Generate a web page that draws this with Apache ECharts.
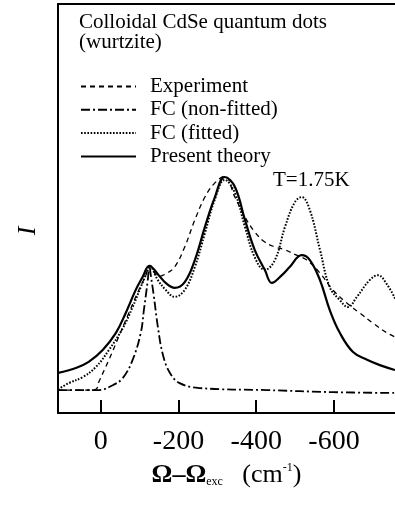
<!DOCTYPE html>
<html>
<head>
<meta charset="utf-8">
<script src="https://cdn.jsdelivr.net/npm/echarts@6/dist/echarts.min.js"></script>
<style>
html,body{margin:0;padding:0;background:#fff;}
#c{width:395px;height:508px;}
</style>
</head>
<body>
<div id="c"></div>
<script>
// Ω−Ω_exc (cm^-1) and intensity I (arbitrary units)
const seriesNames = ['Experiment', 'FC (non-fitted)', 'FC (fitted)', 'Present theory'];
const xTicks = [0, -200, -400, -600];

const expX = [110, 46, 13, 5, -21, -46, -72, -98, -116, -125, -149, -167, -190, -216, -242, -268, -293, -319, -345, -371, -396, -422, -448, -474, -499, -530, -564, -597, -633, -667, -700, -736, -757];
const expY = [5.6, 5.6, 5.8, 7.6, 13.0, 18.6, 24.4, 30.1, 33.7, 36.0, 33.4, 34.0, 35.7, 40.6, 47.2, 52.8, 56.2, 57.9, 52.8, 47.9, 44.3, 41.8, 40.6, 39.9, 38.8, 37.4, 34.2, 30.1, 26.9, 24.4, 22.0, 19.6, 18.6];

const fcnX = [110, 46, 5, -31, -57, -82, -103, -111, -121, -125, -129, -136, -147, -160, -178, -203, -254, -427, -597, -757];
const fcnY = [5.6, 5.6, 5.6, 6.8, 8.6, 13.0, 19.6, 25.2, 32.5, 36.0, 33.5, 29.0, 21.0, 14.2, 9.8, 7.3, 6.1, 5.6, 5.1, 4.9];

const fcfX = [110, 82, 46, 13, -21, -57, -82, -103, -121, -125, -147, -167, -190, -216, -242, -268, -293, -319, -345, -371, -396, -422, -448, -474, -499, -517, -538, -564, -589, -615, -636, -659, -692, -713, -736, -757];
const fcfY = [5.8, 7.3, 8.8, 11.2, 15.4, 20.8, 25.9, 30.8, 35.0, 36.0, 32.5, 30.1, 28.4, 30.1, 35.7, 44.0, 52.1, 57.0, 53.8, 45.5, 38.1, 35.0, 37.4, 45.5, 51.5, 52.8, 49.6, 39.9, 30.8, 27.6, 25.9, 28.4, 32.5, 33.7, 31.5, 28.0];

const thX = [110, 64, 31, -5, -39, -64, -90, -108, -125, -149, -167, -190, -216, -242, -268, -293, -319, -345, -371, -396, -422, -440, -466, -486, -517, -538, -564, -589, -615, -649, -685, -718, -757];
const thY = [9.8, 11.0, 12.5, 15.4, 19.6, 24.4, 30.1, 33.3, 36.0, 33.7, 31.8, 30.6, 32.0, 37.4, 45.5, 52.6, 57.7, 55.3, 47.2, 39.9, 35.0, 31.8, 33.7, 35.7, 38.6, 37.4, 32.5, 25.2, 19.6, 14.9, 13.0, 11.7, 10.5];

const zip = (xs, ys) => xs.map((x, i) => [x, ys[i]]);
const SERIF = "'Liberation Serif', 'Times New Roman', serif";

const chart = echarts.init(document.getElementById('c'));
const xMin = -757, xMax = 110;

chart.setOption({
  animation: false,
  backgroundColor: '#fff',
  grid: { left: 58, right: 0, top: 4, bottom: 95 },
  legend: {
    orient: 'vertical',
    left: 75, top: 71,
    itemWidth: 55, itemHeight: 12, itemGap: 2.3,
    data: seriesNames,
    itemStyle: { opacity: 0 },
    textStyle: { fontFamily: SERIF, fontSize: 21, color: '#000', lineHeight: 21, padding: [0, 0, 0, 9] }
  },
  xAxis: [{
    type: 'value', inverse: true, min: xMin, max: xMax,
    axisLine: { show: true, onZero: false, lineStyle: { color: '#000', width: 2 } },
    axisTick: { show: true, inside: true, length: 13, lineStyle: { color: '#000', width: 2 }, customValues: xTicks },
    axisLabel: { show: true, margin: 15, fontFamily: SERIF, fontSize: 28, color: '#000', customValues: xTicks },
    splitLine: { show: false },
    name: '{a|Ω–Ω}{b|exc}{c|   (cm}{d|-1}{c|)}',
    nameLocation: 'middle', nameGap: 49,
    nameTextStyle: {
      rich: {
        a: { fontFamily: SERIF, fontSize: 26, fontWeight: 'bold', color: '#000' },
        b: { fontFamily: SERIF, fontSize: 12, color: '#000', verticalAlign: 'bottom' },
        c: { fontFamily: SERIF, fontSize: 26, color: '#000' },
        d: { fontFamily: SERIF, fontSize: 12, color: '#000', verticalAlign: 'top' }
      }
    }
  }, {
    type: 'value', position: 'top', inverse: true, min: xMin, max: xMax,
    axisLine: { show: true, onZero: false, lineStyle: { color: '#000', width: 2 } },
    axisTick: { show: false }, axisLabel: { show: false }, splitLine: { show: false }
  }],
  yAxis: {
    type: 'value', min: 0, max: 100,
    axisLine: { show: true, onZero: false, lineStyle: { color: '#000', width: 2 } },
    axisTick: { show: false }, axisLabel: { show: false }, splitLine: { show: false }
  },
  graphic: [
    { type: 'text', left: 79, top: 12, style: { text: 'Colloidal CdSe quantum dots\n(wurtzite)', font: '21px ' + SERIF, lineHeight: 20, fill: '#000' } },
    { type: 'text', x: 273, y: 180, style: { text: 'T=1.75K', font: '21px ' + SERIF, fill: '#000', verticalAlign: 'middle' } },
    { type: 'text', x: 28, y: 231, rotation: Math.PI / 2, style: { text: 'I', font: 'italic 26px ' + SERIF, fill: '#000', align: 'center', verticalAlign: 'middle' } }
  ],
  series: [
    { name: 'FC (non-fitted)', type: 'line', data: zip(fcnX, fcnY), smooth: 0.4, symbol: 'none',
      lineStyle: { color: '#000', width: 1.8, type: [9, 3, 2, 3] }, z: 2 },
    { name: 'FC (fitted)', type: 'line', data: zip(fcfX, fcfY), smooth: 0.4, symbol: 'none',
      lineStyle: { color: '#000', width: 2, type: [1.6, 1.6] }, z: 3 },
    { name: 'Experiment', type: 'line', data: zip(expX, expY), smooth: 0.4, symbol: 'none',
      lineStyle: { color: '#000', width: 1.3, type: [5, 4] }, z: 4 },
    { name: 'Present theory', type: 'line', data: zip(thX, thY), smooth: 0.4, symbol: 'none',
      lineStyle: { color: '#000', width: 2.2 }, z: 5 }
  ]
});
</script>
</body>
</html>
